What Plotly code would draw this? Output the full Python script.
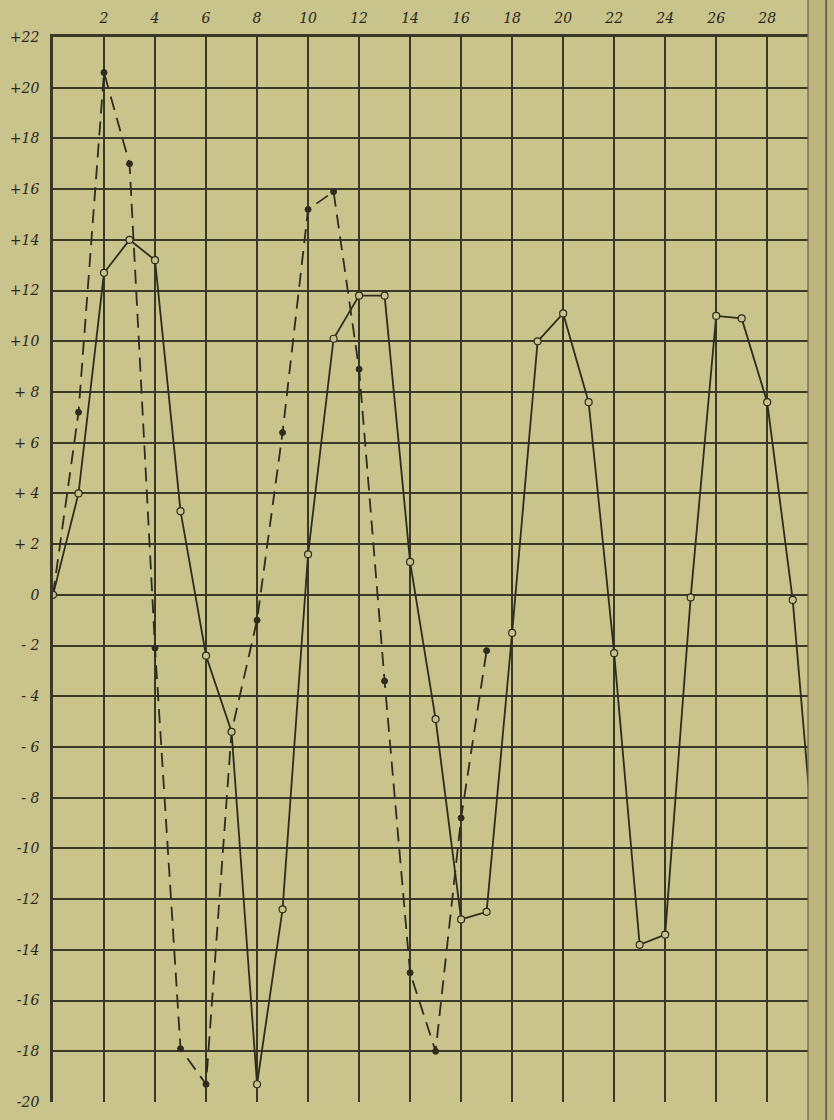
import plotly.graph_objects as go

# Day numbers along the top axis
days = list(range(0, 31))

# Solid curve (open circles), one value per day
solid_vals = [0, 4.0, 12.7, 14.0, 13.2, 3.3, -2.4, -5.4, -19.3, -12.4,
              1.6, 10.1, 11.8, 11.8, 1.3, -4.9, -12.8, -12.5, -1.5, 10.0,
              11.1, 7.6, -2.3, -13.8, -13.4, -0.1, 11.0, 10.9, 7.6, -0.2,
              -12.0]

# Dashed curve (filled dots), days 0..17
dashed_days = list(range(0, 18))
dashed_vals = [0, 7.2, 20.6, 17.0, -2.1, -17.9, -19.3, -5.4, -1.0, 6.4,
               15.2, 15.9, 8.9, -3.4, -14.9, -18.0, -8.8, -2.2]

# Axis tick labels
x_tickvals = list(range(2, 30, 2))
x_ticktext = [str(v) for v in x_tickvals]
y_tickvals = list(range(-20, 23, 2))
y_ticktext = ["-20", "-18", "-16", "-14", "-12", "-10", "- 8", "- 6", "- 4", "- 2",
              "0", "+ 2", "+ 4", "+ 6", "+ 8", "+10", "+12", "+14", "+16", "+18",
              "+20", "+22"]

paper = "#c9c48b"
ink = "#2f2c1f"
grid = "#3b3826"

fig = go.Figure()

fig.add_trace(go.Scatter(
    x=dashed_days, y=dashed_vals, mode="lines+markers",
    line=dict(color=ink, width=1.8, dash="14px,8px"),
    marker=dict(symbol="circle", size=6, color=ink, line=dict(color=ink, width=1)),
    showlegend=False, cliponaxis=True,
))

fig.add_trace(go.Scatter(
    x=days, y=solid_vals, mode="lines+markers",
    line=dict(color=ink, width=1.8),
    marker=dict(symbol="circle", size=7, color=paper, line=dict(color=ink, width=1.2)),
    showlegend=False, cliponaxis=True,
))

label_font = dict(family="DejaVu Serif", size=14, color="#2a281c", style="italic")

fig.update_xaxes(
    range=[0, 29.6], side="top",
    tickmode="array", tickvals=x_tickvals, ticktext=x_ticktext,
    tickfont=label_font, ticks="", ticklabelstandoff=6,
    showgrid=True, gridcolor=grid, gridwidth=1.6,
    showline=True, linecolor=grid, linewidth=2.6, mirror=False,
    zeroline=False,
)
fig.update_yaxes(
    range=[-20, 22],
    tickmode="array", tickvals=y_tickvals, ticktext=y_ticktext,
    tickfont=label_font, ticks="", ticklabelstandoff=8,
    showgrid=True, gridcolor=grid, gridwidth=1.6,
    showline=True, linecolor=grid, linewidth=2.6, mirror=False,
    zeroline=False,
)

# Binding strip at the right-hand edge of the page
fig.add_shape(type="rect", xref="paper", yref="paper",
              x0=1.0, x1=1.05, y0=-0.02, y1=1.05,
              fillcolor="#bcb67e", line=dict(width=0), layer="above")
fig.add_shape(type="line", xref="paper", yref="paper",
              x0=1.0, x1=1.0, y0=-0.02, y1=1.05,
              line=dict(color="#6b6748", width=1.2), layer="above")
fig.add_shape(type="line", xref="paper", yref="paper",
              x0=1.024, x1=1.024, y0=-0.02, y1=1.05,
              line=dict(color="#55513a", width=1.5), layer="above")

fig.update_layout(
    width=834, height=1120,
    margin=dict(l=53, r=26, t=35, b=10),
    paper_bgcolor=paper, plot_bgcolor=paper,
)

fig.write_html("out.html")
